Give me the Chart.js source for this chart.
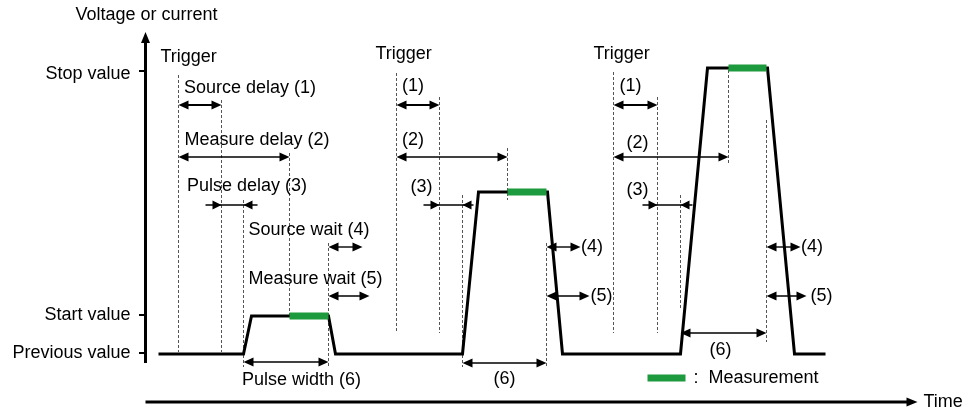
<!DOCTYPE html>
<html><head><meta charset="utf-8">
<script src="https://cdn.jsdelivr.net/npm/chart.js@4.4.1/dist/chart.umd.min.js"></script>
<style>html,body{margin:0;padding:0;background:#fff}</style>
</head><body>
<canvas id="c" width="971" height="410"></canvas>
<script>
// Time: arbitrary units, 0 at the vertical axis. Level: arbitrary units, 0 at the time axis.
const levelLabels = ['Previous value', 'Start value', 'Stop value'];
const levelTicks = [49, 87, 331];

const waveformTime  = [13, 98, 106, 183, 190, 317, 333, 402, 417, 535, 562, 622, 649, 680];
const waveformLevel = [48, 48, 86, 86, 48, 48, 210, 210, 48, 48, 334, 334, 48, 48];

const measureStart = [144, 362, 583];
const measureEnd   = [183, 401, 621];
const measureLevel = [86, 210, 334];

const triggerTime     = [33, 251, 468];
const sourceDelayEnd  = [76, 294, 512];
const pulseStart      = [98, 317, 535];
const pulseEnd        = [183, 401, 621];
const sourceWaitEnd   = [217, 435, 655];
const measureWaitEnd  = [224, 444, 661];

const longLabels  = ['Source delay (1)', 'Measure delay (2)', 'Pulse delay (3)', 'Source wait (4)', 'Measure wait (5)', 'Pulse width (6)'];
const shortLabels = ['(1)', '(2)', '(3)', '(4)', '(5)', '(6)'];
const triggerLabel = 'Trigger';
const yTitle = 'Voltage or current';
const xTitle = 'Time';
const legendLabel = 'Measurement';

// ---- layout (positions in the chart's own units) ----
const guideSpan = {
  trigger:      {top: [327, 329, 330], bottom: [50, 69, 69]},
  sourceDelay:  {top: [302, 305, 305], bottom: [50, 69, 69]},
  measureDelay: {top: [249, 254, 332], bottom: [87, 202, 237]},
  pulseStart:   {top: [202, 207, 207], bottom: [35, 35, 92]},
  pulseEnd:     {top: [159, 159, 282], bottom: [35, 35, 60]}
};
const rowLevel = {sourceDelay: 297, measureDelay: 245, pulseDelay: 197, sourceWait: 155, measureWait: 106, pulseWidth: [40, 39, 69]};
const pulseDelayTail = {left: [60, 278, 497], right: [112, 328, 547]};
const labelPos = [
  // cycle 1 (long labels)
  [[38.5, 313.5], [39, 262], [41.5, 216], [103, 172], [103, 123], [96.5, 21.5]],
  // cycle 2
  [[256.5, 315.5], [256.5, 261.5], [265, 214.5], [435.5, 154.5], [445, 105.5], [348, 23]],
  // cycle 3
  [[474, 315.5], [481, 259], [481, 212], [655.5, 154.5], [665, 106], [564, 51.5]]
];
const triggerLabelPos = [[15, 345], [230, 347.5], [448, 347.5]];

const guideData = [];
['trigger', 'sourceDelay', 'measureDelay', 'pulseStart', 'pulseEnd'].forEach(k => {
  const times = {trigger: triggerTime, sourceDelay: sourceDelayEnd, measureDelay: measureStart, pulseStart: pulseStart, pulseEnd: pulseEnd}[k];
  times.forEach((t, i) => {
    guideData.push({x: t, y: guideSpan[k].top[i]}, {x: t, y: guideSpan[k].bottom[i]}, {x: t, y: null});
  });
});
const measData = [];
measureStart.forEach((t, i) => { measData.push({x: t, y: measureLevel[i]}, {x: measureEnd[i], y: measureLevel[i]}, {x: measureEnd[i], y: null}); });

const FONT = '18px "Liberation Sans", Arial, sans-serif';
const GREEN = '#1e9a3e';

function head(ctx, x, y, dir, L, W) {
  L = L || 10; W = W || 4.5;
  ctx.beginPath();
  ctx.moveTo(x, y);
  ctx.lineTo(x - dir * L, y - W);
  ctx.lineTo(x - dir * L, y + W);
  ctx.closePath();
  ctx.fill();
}
function headV(ctx, x, y, L, W) {
  ctx.beginPath();
  ctx.moveTo(x, y);
  ctx.lineTo(x - W, y + L);
  ctx.lineTo(x + W, y + L);
  ctx.closePath();
  ctx.fill();
}

const overlay = {
  id: 'overlay',
  afterDatasetsDraw(chart) {
    const ctx = chart.ctx, X = v => chart.scales.x.getPixelForValue(v), Y = v => chart.scales.y.getPixelForValue(v);
    ctx.save();
    ctx.fillStyle = '#000'; ctx.strokeStyle = '#000';

    // axes
    ctx.lineWidth = 3;
    ctx.beginPath(); ctx.moveTo(X(0), Y(39)); ctx.lineTo(X(0), Y(370) + 9); ctx.stroke();
    headV(ctx, X(0), Y(370), 11, 4.5);
    ctx.beginPath(); ctx.moveTo(X(0), Y(0)); ctx.lineTo(X(772) - 9, Y(0)); ctx.stroke();
    head(ctx, X(772), Y(0), 1, 11, 4.5);
    ctx.lineWidth = 2;
    levelTicks.forEach(v => { ctx.beginPath(); ctx.moveTo(X(0) - 6.5, Y(v)); ctx.lineTo(X(0), Y(v)); ctx.stroke(); });

    // double arrows
    const dbl = (a, b, v, lw) => {
      ctx.lineWidth = lw;
      ctx.beginPath(); ctx.moveTo(X(a) + 4, Y(v)); ctx.lineTo(X(b) - 4, Y(v)); ctx.stroke();
      head(ctx, X(a), Y(v), -1); head(ctx, X(b), Y(v), 1);
    };
    for (let i = 0; i < 3; i++) {
      dbl(triggerTime[i], sourceDelayEnd[i], rowLevel.sourceDelay, 1.8);
      dbl(triggerTime[i], measureStart[i], rowLevel.measureDelay, 1.5);
      // pulse delay: inward arrows
      ctx.lineWidth = 1.4;
      ctx.beginPath(); ctx.moveTo(X(pulseDelayTail.left[i]), Y(rowLevel.pulseDelay)); ctx.lineTo(X(pulseDelayTail.right[i]), Y(rowLevel.pulseDelay)); ctx.stroke();
      head(ctx, X(sourceDelayEnd[i]), Y(rowLevel.pulseDelay), 1, 9, 4.5);
      head(ctx, X(pulseStart[i]), Y(rowLevel.pulseDelay), -1, 9, 4.5);
      dbl(pulseEnd[i], sourceWaitEnd[i], rowLevel.sourceWait, 1.4);
      dbl(pulseEnd[i], measureWaitEnd[i], rowLevel.measureWait, 1.4);
      dbl(pulseStart[i], pulseEnd[i], rowLevel.pulseWidth[i], 1.4);
    }

    // legend
    ctx.fillStyle = GREEN;
    ctx.fillRect(X(502), Y(24) - 3.5, X(540) - X(502), 7);
    ctx.fillStyle = '#000';

    // text
    ctx.font = FONT; ctx.textBaseline = 'middle'; ctx.textAlign = 'left';
    ctx.fillText(yTitle, X(-70), Y(386.5));
    ctx.fillText(xTitle, X(778), Y(0));
    ctx.fillText(':', X(548), Y(24));
    ctx.fillText(legendLabel, X(563), Y(24));
    triggerLabelPos.forEach(p => ctx.fillText(triggerLabel, X(p[0]), Y(p[1])));
    labelPos.forEach((cyc, ci) => cyc.forEach((p, li) => {
      ctx.fillText(ci === 0 ? longLabels[li] : shortLabels[li], X(p[0]), Y(p[1]));
    }));
    ctx.textAlign = 'right';
    const lvlTextY = [49, 87, 328];
    levelLabels.forEach((s, i) => ctx.fillText(s, X(-15), Y(lvlTextY[i])));
    ctx.restore();
  }
};

new Chart(document.getElementById('c'), {
  type: 'line',
  data: {
    datasets: [
      {label: 'Measurement', data: measData, borderColor: GREEN, borderWidth: 7, borderCapStyle: 'butt', pointRadius: 0, spanGaps: false, order: 0},
      {label: 'Output', data: waveformTime.map((t, i) => ({x: t, y: waveformLevel[i]})), borderColor: '#000', borderWidth: 3, borderJoinStyle: 'miter', pointRadius: 0, tension: 0, order: 1},
      {label: 'Guides', data: guideData, borderColor: '#555', borderWidth: 1, borderDash: [3, 2], pointRadius: 0, spanGaps: false, order: 2}
    ]
  },
  options: {
    responsive: false, animation: false, devicePixelRatio: 1,
    layout: {padding: 0},
    plugins: {legend: {display: false}, tooltip: {enabled: false}},
    scales: {
      x: {type: 'linear', min: -145.5, max: 825.5, display: false},
      y: {type: 'linear', min: -8, max: 402, display: false}
    }
  },
  plugins: [overlay]
});
</script>
</body></html>
